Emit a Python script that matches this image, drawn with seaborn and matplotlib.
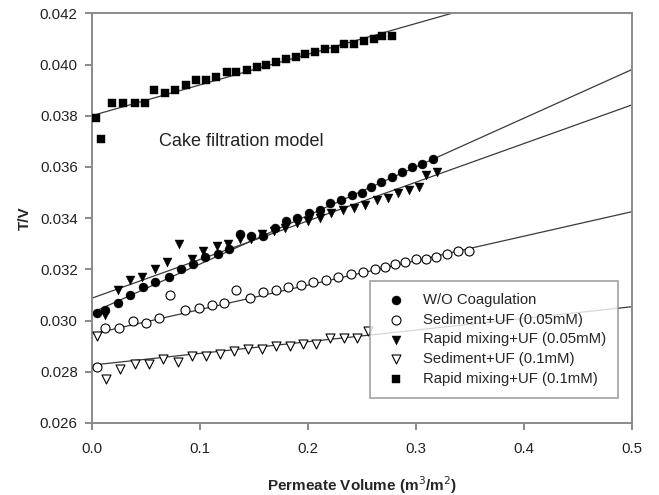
import numpy as np
import pandas as pd
import matplotlib
matplotlib.use("Agg")
import matplotlib.pyplot as plt
import seaborn as sns

# ---------------- data ----------------
labels = ["W/O Coagulation", "Sediment+UF (0.05mM)", "Rapid mixing+UF (0.05mM)",
          "Sediment+UF (0.1mM)", "Rapid mixing+UF (0.1mM)"]

wo_x = [0.005, 0.012, 0.024, 0.036, 0.048, 0.059, 0.072, 0.083, 0.094, 0.105, 0.117,
        0.127, 0.137, 0.148, 0.159, 0.170, 0.180, 0.190, 0.201, 0.211, 0.221, 0.231,
        0.241, 0.250, 0.259, 0.268, 0.278, 0.287, 0.297, 0.306, 0.316]
wo_y = [0.0303, 0.0304, 0.0307, 0.0310, 0.0313, 0.0315, 0.0317, 0.0320, 0.0322, 0.0325,
        0.0326, 0.0328, 0.0334, 0.0333, 0.0333, 0.0336, 0.0339, 0.0340, 0.0342, 0.0343,
        0.0346, 0.0347, 0.0349, 0.0350, 0.0352, 0.0354, 0.0356, 0.0358, 0.0360, 0.0361,
        0.0363]

sed05_x = [0.005, 0.012, 0.025, 0.038, 0.050, 0.062, 0.073, 0.086, 0.099, 0.111, 0.123,
           0.134, 0.147, 0.159, 0.171, 0.182, 0.194, 0.205, 0.217, 0.228, 0.240, 0.251,
           0.262, 0.272, 0.281, 0.290, 0.300, 0.310, 0.319, 0.329, 0.339, 0.349]
sed05_y = [0.0282, 0.0297, 0.0297, 0.0300, 0.0299, 0.0301, 0.0310, 0.0304, 0.0305, 0.0306,
           0.0307, 0.0312, 0.0309, 0.0311, 0.0312, 0.0313, 0.0314, 0.0315, 0.0316, 0.0317,
           0.0318, 0.0319, 0.0320, 0.0321, 0.0322, 0.0323, 0.0324, 0.0324, 0.0325, 0.0326,
           0.0327, 0.0327]

rm05_x = [0.012, 0.024, 0.036, 0.047, 0.059, 0.070, 0.081, 0.093, 0.103, 0.116, 0.126,
          0.137, 0.148, 0.158, 0.169, 0.179, 0.190, 0.200, 0.211, 0.222, 0.233, 0.243,
          0.253, 0.264, 0.274, 0.284, 0.294, 0.303, 0.310, 0.320]
rm05_y = [0.0302, 0.0312, 0.0316, 0.0317, 0.0320, 0.0323, 0.0330, 0.0324, 0.0327, 0.0329,
          0.0330, 0.0332, 0.0332, 0.0334, 0.0335, 0.0336, 0.0338, 0.0339, 0.0340, 0.0342,
          0.0343, 0.0344, 0.0345, 0.0347, 0.0348, 0.0350, 0.0351, 0.0352, 0.0357, 0.0358]

sed1_x = [0.005, 0.013, 0.026, 0.040, 0.053, 0.066, 0.080, 0.093, 0.106, 0.119, 0.132,
          0.145, 0.158, 0.171, 0.184, 0.196, 0.208, 0.221, 0.234, 0.246, 0.256]
sed1_y = [0.0294, 0.0277, 0.0281, 0.0283, 0.0283, 0.0285, 0.0284, 0.0286, 0.0286, 0.0287,
          0.0288, 0.0289, 0.0289, 0.0290, 0.0290, 0.0291, 0.0291, 0.0293, 0.0293, 0.0293,
          0.0296]

rm1_x = [0.004, 0.009, 0.019, 0.029, 0.040, 0.049, 0.058, 0.068, 0.077, 0.087, 0.097,
         0.106, 0.115, 0.125, 0.134, 0.144, 0.153, 0.161, 0.171, 0.180, 0.189, 0.198,
         0.207, 0.216, 0.225, 0.234, 0.243, 0.252, 0.261, 0.269, 0.278]
rm1_y = [0.0379, 0.0371, 0.0385, 0.0385, 0.0385, 0.0385, 0.0390, 0.0389, 0.0390, 0.0392,
         0.0394, 0.0394, 0.0395, 0.0397, 0.0397, 0.0398, 0.0399, 0.0400, 0.0401, 0.0402,
         0.0403, 0.0404, 0.0405, 0.0406, 0.0406, 0.0408, 0.0408, 0.0409, 0.0410, 0.0411,
         0.0411]

# linear fits (intercept, slope)
fit_intercepts = [0.0303, 0.02947, 0.03087, 0.02826, 0.0380]
fit_slopes = [0.0190, 0.00956, 0.0151, 0.00456, 0.0120]

xs_list = [wo_x, sed05_x, rm05_x, sed1_x, rm1_x]
ys_list = [wo_y, sed05_y, rm05_y, sed1_y, rm1_y]

df = pd.concat([pd.DataFrame({"x": xs, "y": ys, "series": lab})
                for xs, ys, lab in zip(xs_list, ys_list, labels)], ignore_index=True)

# ---------------- style ----------------
sns.set_style("white")
plt.rcParams["font.family"] = ["Liberation Sans", "DejaVu Sans"]

fig = plt.figure(figsize=(6.59, 4.95), dpi=100)
ax = fig.add_axes([0.139, 0.1455, 0.8196, 0.8276])

line_col = "#3a3a3a"
fit_x = np.array([0.0, 0.5])
for b0, b1 in zip(fit_intercepts, fit_slopes):
    ax.plot(fit_x, b0 + b1 * fit_x, color=line_col, lw=0.9, zorder=1)

markers = {labels[0]: "o", labels[1]: "o", labels[2]: "v", labels[3]: "v", labels[4]: "s"}
filled = {labels[0]: True, labels[1]: False, labels[2]: True, labels[3]: False, labels[4]: True}
sizes = {labels[0]: 42, labels[1]: 42, labels[2]: 42, labels[3]: 42, labels[4]: 40}

for lab in labels:
    sub = df[df["series"] == lab]
    fc = "black" if filled[lab] else "white"
    sns.scatterplot(data=sub, x="x", y="y", marker=markers[lab], s=sizes[lab],
                    color=fc, edgecolor="black", linewidth=0.8 if not filled[lab] else 0.3,
                    ax=ax, label=lab, zorder=3)

ax.set_xlim(0, 0.5)
ax.set_ylim(0.026, 0.042)
ax.set_xticks([0.0, 0.1, 0.2, 0.3, 0.4, 0.5])
ax.set_xticklabels(["0.0", "0.1", "0.2", "0.3", "0.4", "0.5"])
yt = [0.026, 0.028, 0.030, 0.032, 0.034, 0.036, 0.038, 0.040, 0.042]
ax.set_yticks(yt)
ax.set_yticklabels([f"{v:.3f}" for v in yt])

spine_col = "#8a8a8a"
for sp in ax.spines.values():
    sp.set_color(spine_col)
    sp.set_linewidth(1.4)
ax.tick_params(axis="both", which="major", direction="out", length=5, width=1.4,
               color=spine_col, labelsize=10.8, labelcolor="#222222", pad=5)
ax.tick_params(axis="x", pad=9)
ax.tick_params(top=False, right=False, left=True, bottom=True)

ax.set_xlabel("Permeate Volume (m$^3$/m$^2$)", fontsize=11, fontweight="bold", labelpad=13)
ax.set_ylabel("T/V", fontsize=11, fontweight="bold", labelpad=6)

ax.text(0.062, 0.0370, "Cake filtration model", fontsize=13, color="#222222",
        va="center", ha="left")

leg = ax.legend(loc="lower left", bbox_to_anchor=(0.515, 0.060), fontsize=10.7,
                frameon=True, fancybox=False, borderpad=0.85, labelspacing=0.38,
                handletextpad=0.9, handlelength=1.8, borderaxespad=0)
leg.get_frame().set_edgecolor(spine_col)
leg.get_frame().set_linewidth(1.2)

fig.savefig("out.png", dpi=100)
